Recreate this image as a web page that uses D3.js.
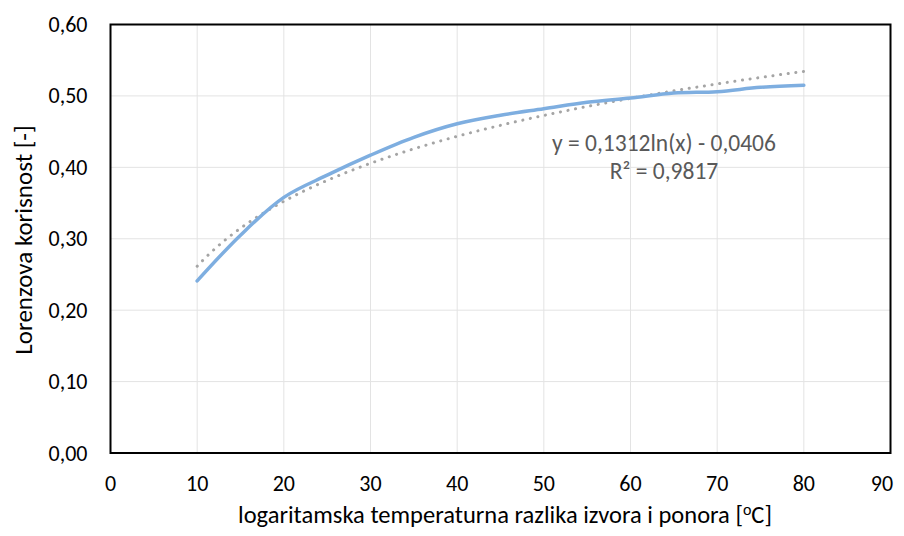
<!DOCTYPE html>
<html>
<head>
<meta charset="utf-8">
<script src="https://cdn.jsdelivr.net/npm/d3@7"></script>
<style>
  body { margin: 0; background: #fff; }
  text { font-family: Calibri, Carlito, Lato, "Open Sans", sans-serif; }
</style>
</head>
<body>
<div id="chart"></div>
<script>
// podaci ocitani sa slike
const xVals = [10, 15, 20, 25, 30, 35, 40, 45, 50, 55, 60, 65, 70, 75, 80];
const yVals = [0.241, 0.305, 0.358, 0.389, 0.417, 0.442, 0.461, 0.473, 0.482, 0.491, 0.497, 0.504, 0.506, 0.512, 0.515];
const xTicks = [0, 10, 20, 30, 40, 50, 60, 70, 80, 90];
const yTicks = [0, 0.1, 0.2, 0.3, 0.4, 0.5, 0.6];
// logaritamski trend (Excel)
const trendA = 0.1312, trendB = -0.0406;
const eqLabel = "y = 0,1312ln(x) - 0,0406";
const r2Label = "R² = 0,9817";

const width = 904, height = 536;
const margin = {top: 24.5, right: 13.5, bottom: 83, left: 110.5};

const svg = d3.select("#chart").append("svg")
  .attr("width", width)
  .attr("height", height);

const x = d3.scaleLinear().domain([0, 90]).range([margin.left, width - margin.right]);
const y = d3.scaleLinear().domain([0, 0.6]).range([height - margin.bottom, margin.top]);

// mreza
svg.append("g").selectAll("line.v")
  .data(xTicks.slice(1, -1))
  .enter().append("line")
  .attr("x1", d => x(d)).attr("x2", d => x(d))
  .attr("y1", y(0)).attr("y2", y(0.6))
  .style("stroke", "#e3e3e3").style("stroke-width", 1);

svg.append("g").selectAll("line.h")
  .data(yTicks.slice(1, -1))
  .enter().append("line")
  .attr("x1", x(0)).attr("x2", x(90))
  .attr("y1", d => y(d)).attr("y2", d => y(d))
  .style("stroke", "#e3e3e3").style("stroke-width", 1);

// trend linija (tockasta)
const trendX = d3.range(10, 80.01, 0.5);
const line = d3.line().x(d => x(d[0])).y(d => y(d[1]));
svg.append("path")
  .datum(trendX.map(v => [v, trendA * Math.log(v) + trendB]))
  .attr("d", line)
  .style("fill", "none")
  .style("stroke", "#a5a5a5")
  .style("stroke-width", 3)
  .style("stroke-linecap", "round")
  .style("stroke-dasharray", "0.1 7.6");

// podaci
svg.append("path")
  .datum(xVals.map((v, i) => [v, yVals[i]]))
  .attr("d", line.curve(d3.curveCatmullRom.alpha(0.5)))
  .style("fill", "none")
  .style("stroke", "#7eaee0")
  .style("stroke-width", 3.5)
  .style("stroke-linecap", "round");

// okvir
svg.append("rect")
  .attr("x", x(0)).attr("y", y(0.6))
  .attr("width", x(90) - x(0)).attr("height", y(0) - y(0.6))
  .style("fill", "none").style("stroke", "#000").style("stroke-width", 2);

// oznake osi
const fmt = d => d.toFixed(2).replace(".", ",");
svg.append("g").selectAll("text")
  .data(yTicks).enter().append("text")
  .attr("x", x(0) - 23).attr("y", d => y(d) + 7.5)
  .attr("text-anchor", "end")
  .style("font-size", "22px").style("fill", "#000")
  .text(fmt);

svg.append("g").selectAll("text")
  .data(xTicks).enter().append("text")
  .attr("x", d => Math.min(x(d), 882)).attr("y", 491)
  .attr("text-anchor", "middle")
  .style("font-size", "22px").style("fill", "#000")
  .text(d => d);

// naslovi osi
svg.append("text")
  .attr("transform", "translate(32,240) rotate(-90)")
  .attr("text-anchor", "middle")
  .style("font-size", "25px").style("fill", "#000")
  .text("Lorenzova korisnost [-]");

const xt = svg.append("text")
  .attr("x", 505).attr("y", 523)
  .attr("text-anchor", "middle")
  .style("font-size", "24.5px").style("fill", "#000");
xt.append("tspan").text("logaritamska temperaturna razlika izvora i ponora [");
xt.append("tspan").attr("dy", -8).style("font-size", "16px").text("o");
xt.append("tspan").attr("dy", 8).text("C]");

// jednadzba trenda
svg.append("text")
  .attr("x", 664).attr("y", 151)
  .attr("text-anchor", "middle")
  .style("font-size", "23.5px").style("fill", "#595959")
  .text(eqLabel);
svg.append("text")
  .attr("x", 664).attr("y", 179)
  .attr("text-anchor", "middle")
  .style("font-size", "23.5px").style("fill", "#595959")
  .text(r2Label);
</script>
</body>
</html>
